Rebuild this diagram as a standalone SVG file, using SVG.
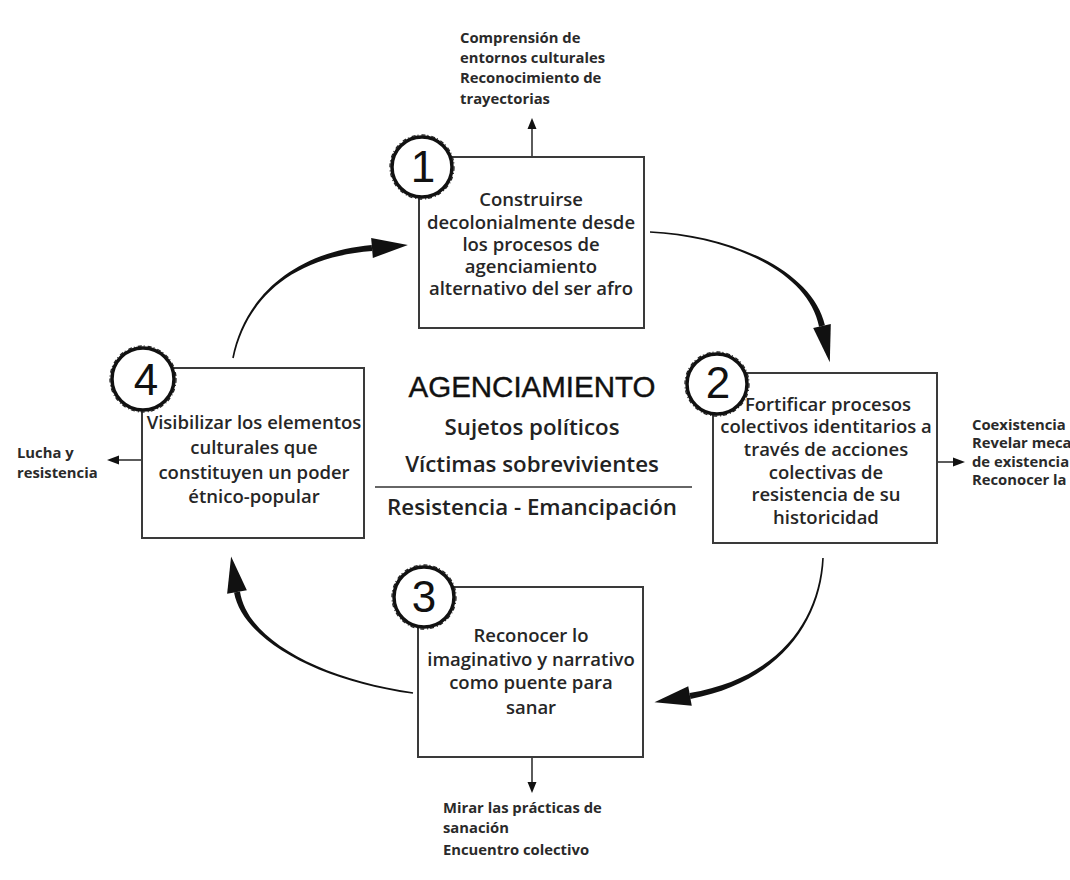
<svg xmlns="http://www.w3.org/2000/svg" width="1070" height="880" viewBox="0 0 1070 880">
<style>
.box{fill:#fff;stroke:#3a3a3a;stroke-width:2}
.btxt{font-family:"Open Sans","Liberation Sans",sans-serif;font-size:18.5px;font-weight:600;fill:#262626;text-anchor:middle}
.stxt{font-family:"Open Sans","Liberation Sans",sans-serif;font-size:14.8px;font-weight:700;fill:#2a2a2a}
.num{fill:#fff;stroke:#111;stroke-width:3.5}
.rough{fill:none;stroke:#222;stroke-width:1.3;stroke-dasharray:4 2 1 3}
.dig{font-family:"Liberation Sans",sans-serif;font-size:44px;fill:#111;text-anchor:middle}
.ctr{font-family:"Open Sans","Liberation Sans",sans-serif;font-size:22.3px;font-weight:600;fill:#222;text-anchor:middle}
.thin{stroke:#333;stroke-width:1.6;fill:none}
.head{fill:#111}
</style>
<rect width="1070" height="880" fill="#fff"/>
<g id="connectors">
  <path class="head" d="M233.8,358.2 C246.2,300.2 290.2,257.2 372.3,251 L371.7,245 C289.8,252.8 243.8,299.8 232.2,357.8 Z"/>
  <polygon class="head" points="371.15,238 407.9,244.9 372.85,258"/>
  <path class="head" d="M649.96,232.8 C729.94,237.2 807.85,270.46 819.07,326.63 L824.93,325.37 C812.15,269.54 730.06,234.8 650.04,231.2 Z"/>
  <polygon class="head" points="813.2,327.9 829.8,362.2 830.8,324.1"/>
  <path class="head" d="M822.2,557.96 C818.8,619.94 779.6,677.83 689.5,693.05 L690.5,698.95 C780.4,682.17 821.2,620.06 823.8,558.04 Z"/>
  <polygon class="head" points="688.25,686.15 654.5,702.3 691.75,705.85"/>
  <path class="head" d="M413.11,692.21 C320.17,678.81 247.17,639.64 239.96,591.51 L234.04,592.49 C242.83,640.36 319.83,681.19 412.89,693.79 Z"/>
  <polygon class="head" points="246.86,590.36 231.1,556.5 227.14,593.64"/>
  <line class="thin" x1="532" y1="157" x2="532" y2="127"/>
  <polygon class="head" points="532,118 527.5,129 536.5,129"/>
  <line class="thin" x1="532" y1="757" x2="532" y2="783"/>
  <polygon class="head" points="532,793 527.5,782 536.5,782"/>
  <line class="thin" x1="937" y1="462" x2="955" y2="462"/>
  <polygon class="head" points="965,462 953,457.5 953,466.5"/>
  <line class="thin" x1="142" y1="460" x2="117" y2="460"/>
  <polygon class="head" points="107,460 119,455.5 119,464.5"/>
</g>
<g id="node1">
  <rect class="box" x="419" y="157" width="225" height="171"/>
  <circle class="num" cx="422" cy="167" r="30"/>
  <circle class="rough" cx="422" cy="167" r="32"/>
  <text class="dig" x="423" y="182">1</text>
  <text class="btxt" x="531" y="206">Construirse</text>
  <text class="btxt" x="531" y="229">decolonialmente desde</text>
  <text class="btxt" x="531" y="251">los procesos de</text>
  <text class="btxt" x="531" y="273">agenciamiento</text>
  <text class="btxt" x="531" y="295">alternativo del ser afro</text>
</g>
<g id="note1">
  <text class="stxt" x="460" y="43">Comprensión de</text>
  <text class="stxt" x="460" y="63">entornos culturales</text>
  <text class="stxt" x="460" y="83">Reconocimiento de</text>
  <text class="stxt" x="460" y="104">trayectorias</text>
</g>
<g id="node2">
  <rect class="box" x="713" y="373" width="224" height="170"/>
  <circle class="num" cx="717" cy="384" r="30"/>
  <circle class="rough" cx="717" cy="384" r="32"/>
  <text class="dig" x="718" y="398">2</text>
  <text class="btxt" x="828" y="411">Fortificar procesos</text>
  <text class="btxt" x="826" y="433">colectivos identitarios a</text>
  <text class="btxt" x="826" y="456">través de acciones</text>
  <text class="btxt" x="826" y="479">colectivas de</text>
  <text class="btxt" x="826" y="501">resistencia de su</text>
  <text class="btxt" x="826" y="524">historicidad</text>
</g>
<g id="note2">
  <text class="stxt" x="972" y="430">Coexistencia</text>
  <text class="stxt" x="972" y="448">Revelar meca</text>
  <text class="stxt" x="972" y="467">de existencia</text>
  <text class="stxt" x="972" y="485">Reconocer la</text>
</g>
<g id="node3">
  <rect class="box" x="418" y="587" width="225" height="170"/>
  <circle class="num" cx="424" cy="597" r="30"/>
  <circle class="rough" cx="424" cy="597" r="32"/>
  <text class="dig" x="424" y="612">3</text>
  <text class="btxt" x="531" y="642">Reconocer lo</text>
  <text class="btxt" x="531" y="666">imaginativo y narrativo</text>
  <text class="btxt" x="531" y="689">como puente para</text>
  <text class="btxt" x="531" y="714">sanar</text>
</g>
<g id="note3">
  <text class="stxt" x="443" y="813">Mirar las prácticas de</text>
  <text class="stxt" x="443" y="833">sanación</text>
  <text class="stxt" x="443" y="855">Encuentro colectivo</text>
</g>
<g id="node4">
  <rect class="box" x="142" y="368" width="222" height="170"/>
  <circle class="num" cx="143" cy="379" r="31"/>
  <circle class="rough" cx="143" cy="379" r="33"/>
  <text class="dig" x="146" y="395">4</text>
  <text class="btxt" x="254" y="429">Visibilizar los elementos</text>
  <text class="btxt" x="254" y="454">culturales que</text>
  <text class="btxt" x="254" y="479">constituyen un poder</text>
  <text class="btxt" x="254" y="503">étnico-popular</text>
</g>
<g id="note4">
  <text class="stxt" x="17" y="458">Lucha y</text>
  <text class="stxt" x="17" y="478">resistencia</text>
</g>
<g id="center">
  <text x="532" y="397" font-family="Liberation Sans, sans-serif" font-size="29.5" fill="#111" stroke="#111" stroke-width="0.4" text-anchor="middle">AGENCIAMIENTO</text>
  <text class="ctr" x="532" y="435">Sujetos políticos</text>
  <text class="ctr" x="532" y="472">Víctimas sobrevivientes</text>
  <line x1="375" y1="487" x2="692" y2="487" stroke="#333" stroke-width="1.6"/>
  <text class="ctr" x="532" y="515">Resistencia - Emancipación</text>
</g>
</svg>
